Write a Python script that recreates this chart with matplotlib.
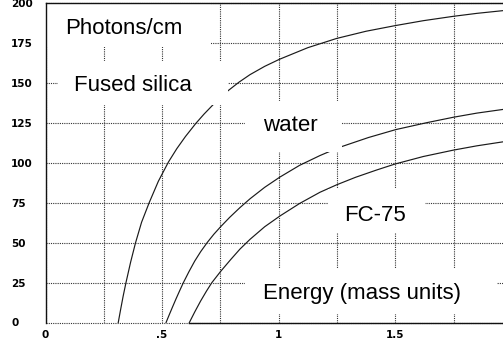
import matplotlib
matplotlib.use("Agg")
import matplotlib.pyplot as plt
from matplotlib.patches import Rectangle
from matplotlib.ticker import FixedLocator

# ---- data ----
silica_x = [0.312, 0.322, 0.333, 0.345, 0.365, 0.386, 0.412, 0.445, 0.484, 0.527,
            0.563, 0.600, 0.645, 0.680, 0.717, 0.780, 0.830, 0.877, 0.940, 1.003,
            1.125, 1.249, 1.375, 1.499, 1.620, 1.747, 1.850, 1.962]
silica_y = [0.0, 8.0, 16.5, 24.9, 37.8, 49.9, 62.8, 75.2, 88.5, 100.5,
            108.9, 116.5, 124.8, 130.6, 136.2, 144.9, 150.6, 155.3, 160.5, 164.9,
            172.2, 178.0, 182.5, 186.0, 189.1, 191.8, 193.7, 195.4]

water_x = [0.517, 0.530, 0.545, 0.560, 0.575, 0.591, 0.615, 0.640, 0.666, 0.694,
           0.722, 0.751, 0.790, 0.834, 0.877, 0.940, 1.005, 1.090, 1.177, 1.222,
           1.270, 1.385, 1.503, 1.635, 1.749, 1.850, 1.962]
water_y = [0.0, 4.6, 9.8, 14.9, 19.8, 24.9, 31.8, 38.5, 44.5, 50.2,
           55.3, 60.0, 65.9, 72.0, 77.5, 84.7, 91.1, 98.5, 104.6, 107.4,
           110.2, 115.9, 120.9, 125.2, 128.6, 131.2, 133.5]

fc75_x = [0.617, 0.640, 0.665, 0.690, 0.713, 0.751, 0.794, 0.834, 0.877, 0.940,
          1.006, 1.090, 1.177, 1.249, 1.330, 1.419, 1.499, 1.620, 1.749, 1.850,
          1.962]
fc75_y = [0.0, 6.6, 13.4, 19.6, 24.9, 32.0, 39.4, 46.0, 52.1, 60.0,
          66.8, 74.6, 81.6, 86.3, 91.0, 95.5, 99.3, 104.0, 108.0, 110.7,
          113.2]

x_ticks = [0, 0.5, 1, 1.5]
x_tick_labels = ["0", ".5", "1", "1.5"]
x_minor = [0.25, 0.75, 1.25, 1.75]
y_ticks = [0, 25, 50, 75, 100, 125, 150, 175, 200]
y_tick_labels = [str(v) for v in y_ticks]

# labels: text, x, y, white box (x0, y0, x1, y1)
labels = [
    ("Photons/cm", 0.337, 180.9, (0.003, 172.8, 0.708, 200.0)),
    ("Fused silica", 0.377, 144.9, (0.054, 136.0, 0.783, 164.0)),
    ("water", 1.048, 119.7, (0.855, 106.6, 1.270, 139.0)),
    ("FC-75", 1.415, 63.9, (1.211, 56.0, 1.627, 83.4)),
    ("Energy (mass units)", 1.357, 14.9, (0.855, 5.3, 1.936, 34.1)),
]

XMAX = 1.962

fig = plt.figure(figsize=(5.03, 3.42), dpi=100)
ax = fig.add_axes([45.5 / 503, 19.5 / 342, (503 - 45.5) / 503, (322.5 - 3.3) / 342])
ax.set_xlim(0, XMAX)
ax.set_ylim(0, 200)

grid_kw = dict(color="#333333", linewidth=0.8, linestyle=(0, (1, 1)))
ax.xaxis.set_major_locator(FixedLocator(x_ticks))
ax.xaxis.set_minor_locator(FixedLocator(x_minor))
ax.set_xticklabels(x_tick_labels)
ax.set_yticks(y_ticks)
ax.set_yticklabels(y_tick_labels)
ax.grid(True, which="both", axis="x", **grid_kw)
ax.grid(True, which="major", axis="y", **grid_kw)
for gl in ax.get_ygridlines():
    gl.set_clip_on(False)
ax.set_axisbelow(True)

ax.tick_params(axis="both", which="both", length=0)
ax.tick_params(axis="y", pad=24.8)
ax.tick_params(axis="x", pad=5.2)
for lab in ax.get_yticklabels():
    lab.set_ha("left")
    lab.set_fontfamily("DejaVu Sans")
    lab.set_fontweight("bold")
    lab.set_fontsize(7.5)
for lab in ax.get_xticklabels():
    lab.set_fontfamily("DejaVu Sans")
    lab.set_fontweight("bold")
    lab.set_fontsize(7.5)

ax.spines["right"].set_visible(False)
ax.spines["bottom"].set_visible(False)
for s in ("left", "top"):
    ax.spines[s].set_linewidth(1.0)
    ax.spines[s].set_color("#111111")
    ax.spines[s].set_zorder(10)

line_kw = dict(color="#1a1a1a", linewidth=0.85, zorder=3, solid_joinstyle="round")
ax.plot(silica_x, silica_y, **line_kw)
ax.plot(water_x, water_y, **line_kw)
ax.plot(fc75_x, fc75_y, **line_kw)
# solid baseline from the FC-75 threshold onwards
ax.axhline(0, xmin=fc75_x[0] / XMAX, xmax=1.0, color="#111111",
           linewidth=1.0, zorder=3, clip_on=False)

for text, tx, ty, (x0, y0, x1, y1) in labels:
    ax.add_patch(Rectangle((x0, y0), x1 - x0, y1 - y0, facecolor="white",
                           edgecolor="none", zorder=4))
    ax.text(tx, ty, text, ha="center", va="baseline", fontsize=16,
            fontfamily="Liberation Sans", color="black", zorder=5)

fig.savefig("out.png", dpi=100)
